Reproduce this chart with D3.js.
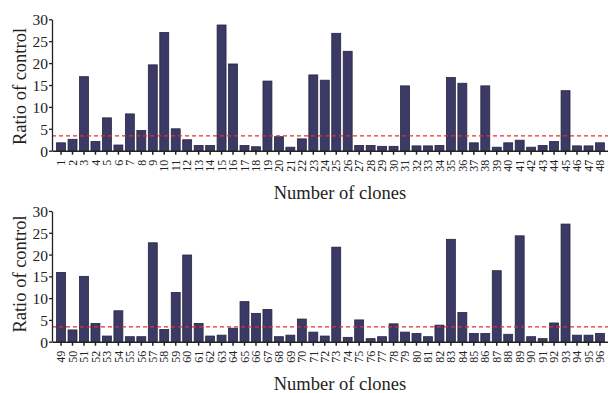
<!DOCTYPE html>
<html>
<head>
<meta charset="utf-8">
<script src="https://cdn.jsdelivr.net/npm/d3@7/dist/d3.min.js"></script>
<style>
  html, body { margin: 0; padding: 0; background: #fff; }
  svg { display: block; }
  .tick text { font-family: "Liberation Serif", "Times New Roman", serif; fill: #222; }
</style>
</head>
<body>
<script>
// Clone numbers and their ratio to control, split into two panels
const clonesTop = d3.range(1, 49).map(String);
const ratioTop = [
  1.8, 2.6, 16.9, 2.1, 7.5, 1.3, 8.4, 4.6, 19.6, 27.0,
  5.0, 2.5, 1.2, 1.2, 28.7, 19.8, 1.2, 0.9, 15.9, 3.2,
  0.8, 2.7, 17.3, 16.1, 26.8, 22.7, 1.2, 1.2, 1.0, 1.0,
  14.8, 1.1, 1.1, 1.2, 16.7, 15.4, 1.8, 14.8, 0.8, 1.8,
  2.4, 0.8, 1.2, 2.1, 13.7, 1.1, 1.1, 1.8
];
const clonesBottom = d3.range(49, 97).map(String);
const ratioBottom = [
  15.9, 2.7, 15.0, 4.2, 1.3, 7.1, 1.15, 1.15, 22.7, 2.8,
  11.3, 19.9, 4.2, 1.3, 1.5, 3.1, 9.2, 6.5, 7.4, 1.15,
  1.5, 5.2, 2.2, 1.3, 21.7, 1.0, 5.0, 0.7, 1.15, 4.1,
  2.2, 1.9, 1.15, 3.8, 23.5, 6.7, 1.9, 1.9, 16.3, 1.7,
  24.3, 1.15, 0.7, 4.3, 27.0, 1.5, 1.5, 1.9
];
const yTicks = [0, 5, 10, 15, 20, 25, 30];
const threshold = 3.4;

const W = 608, H = 393;
const svg = d3.select("body").append("svg")
  .attr("width", W).attr("height", H);

const serif = '"Liberation Serif", "Times New Roman", serif';
const barFill = "#3b3a66";
const barStroke = "#26253f";
const ink = "#222";

function panel(labels, values, y0, y30, titleX, titleY, yTitleCenter) {
  const x = d3.scaleBand()
    .domain(labels)
    .range([52, 609])
    .paddingInner(0.22)
    .paddingOuter(0.4);
  const y = d3.scaleLinear().domain([0, 30]).range([y0, y30]);

  const g = svg.append("g");

  // bars
  g.selectAll("rect.bar")
    .data(values)
    .join("rect")
    .attr("class", "bar")
    .attr("x", (d, i) => x(labels[i]))
    .attr("width", x.bandwidth())
    .attr("y", d => y(d))
    .attr("height", d => y(0) - y(d))
    .attr("fill", barFill)
    .attr("stroke", barStroke)
    .attr("stroke-width", 0.8);

  // threshold line
  g.append("line")
    .attr("x1", 52).attr("x2", W)
    .attr("y1", y(threshold)).attr("y2", y(threshold))
    .attr("stroke", "#e3302c")
    .attr("stroke-width", 1.3)
    .attr("stroke-dasharray", "4,3");

  // y axis
  const ya = g.append("g")
    .attr("transform", "translate(52,0)")
    .call(d3.axisLeft(y).tickValues(yTicks).tickSize(3).tickPadding(1).tickSizeOuter(0));
  ya.select(".domain").attr("stroke", ink).attr("stroke-width", 1.3);
  ya.selectAll(".tick line").attr("stroke", ink).attr("stroke-width", 1.3);
  ya.selectAll(".tick text").attr("font-size", 15.5).attr("dy", "0.35em");

  // x axis
  const xa = g.append("g")
    .attr("transform", `translate(0,${y(0)})`)
    .call(d3.axisBottom(x).tickSize(4).tickSizeOuter(0));
  xa.select(".domain").attr("stroke", ink).attr("stroke-width", 1.6);
  xa.selectAll(".tick line").attr("stroke", ink).attr("stroke-width", 1.5);
  xa.selectAll(".tick text")
    .attr("font-size", 12)
    .attr("transform", "rotate(-90)")
    .attr("text-anchor", "end")
    .attr("x", -9)
    .attr("y", 0)
    .attr("dy", "0.35em");

  // axis titles
  g.append("text")
    .attr("x", titleX).attr("y", titleY)
    .attr("text-anchor", "middle")
    .attr("font-family", serif).attr("font-size", 18.5).attr("fill", ink)
    .text("Number of clones");
  g.append("text")
    .attr("transform", `translate(26,${yTitleCenter}) rotate(-90)`)
    .attr("text-anchor", "middle")
    .attr("font-family", serif).attr("font-size", 18.5).attr("fill", ink)
    .text("Ratio of control");
}

panel(clonesTop, ratioTop, 150.7, 19.3, 340, 199, 86.5);
panel(clonesBottom, ratioBottom, 341.7, 211, 340, 390, 274);
</script>
</body>
</html>
